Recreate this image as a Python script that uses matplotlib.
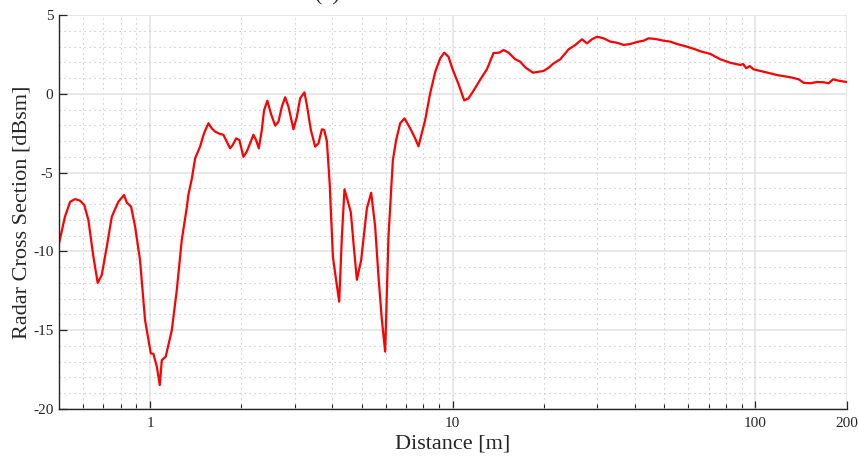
import numpy as np
import matplotlib
matplotlib.use('Agg')
import matplotlib.pyplot as plt
from matplotlib.ticker import FixedLocator, NullFormatter, MultipleLocator

# distance [m] and RCS [dBsm]
distance = [0.500, 0.523, 0.544, 0.565, 0.587, 0.606, 0.625, 0.649, 0.671, 0.692,
            0.719, 0.747, 0.785, 0.820, 0.837, 0.865, 0.892, 0.926, 0.962, 1.005,
            1.025, 1.052, 1.076, 1.093, 1.126, 1.179, 1.225, 1.272, 1.322, 1.338,
            1.373, 1.408, 1.462, 1.507, 1.558, 1.598, 1.639, 1.703, 1.746, 1.792,
            1.837, 1.875, 1.923, 1.972, 2.033, 2.086, 2.139, 2.194, 2.239, 2.286,
            2.339, 2.380, 2.440, 2.505, 2.589, 2.655, 2.724, 2.793, 2.864, 2.976,
            3.054, 3.131, 3.235, 3.295, 3.397, 3.510, 3.599, 3.694, 3.759, 3.837,
            3.920, 4.017, 4.087, 4.214, 4.301, 4.387, 4.489, 4.606, 4.699, 4.822,
            4.981, 5.096, 5.202, 5.375, 5.541, 5.682, 5.831, 5.979, 6.131, 6.340,
            6.501, 6.702, 6.925, 7.232, 7.512, 7.703, 8.106, 8.420, 8.753, 9.086,
            9.367, 9.678, 10.007, 10.447, 10.910, 11.273, 11.711, 12.324, 12.969, 13.637,
            14.243, 14.717, 15.287, 16.087, 16.710, 17.357, 18.405, 19.209, 19.954, 20.728,
            21.531, 22.656, 23.537, 24.134, 25.397, 26.724, 27.760, 28.836, 29.954, 31.500,
            33.148, 34.882, 36.678, 38.597, 40.616, 42.711, 44.366, 46.687, 49.735, 52.33,
            55.07, 59.43, 63.31, 65.76, 70.97, 76.57, 82.60, 89.17, 91.02, 93.33,
            95.70, 98.67, 106.5, 117.9, 130.5, 139.0, 144.4, 151.9, 159.9, 168.1,
            174.6, 180.6, 188.5, 200.0]
rcs_dbsm = [-9.49, -7.80, -6.85, -6.68, -6.78, -7.06, -8.00, -10.30, -12.00, -11.50,
            -9.70, -7.80, -6.85, -6.42, -6.90, -7.16, -8.43, -10.55, -14.35, -16.47,
            -16.50, -17.30, -18.48, -16.90, -16.68, -15.00, -12.45, -9.28, -7.20, -6.40,
            -5.40, -4.10, -3.35, -2.50, -1.87, -2.19, -2.40, -2.55, -2.60, -3.04,
            -3.46, -3.25, -2.83, -2.93, -4.00, -3.67, -3.14, -2.60, -2.93, -3.46,
            -2.30, -1.03, -0.44, -1.24, -2.02, -1.77, -0.82, -0.22, -0.82, -2.25,
            -1.45, -0.29, 0.09, -0.71, -2.30, -3.35, -3.14, -2.25, -2.30, -3.00,
            -5.70, -10.33, -11.39, -13.19, -9.07, -6.06, -6.74, -7.54, -9.49, -11.80,
            -10.55, -8.85, -7.27, -6.28, -8.43, -11.60, -14.35, -16.36, -9.07, -4.20,
            -2.93, -1.87, -1.56, -2.19, -2.83, -3.33, -1.66, 0.03, 1.40, 2.25,
            2.61, 2.35, 1.51, 0.62, -0.42, -0.29, 0.20, 0.90, 1.56, 2.59,
            2.61, 2.78, 2.61, 2.19, 2.04, 1.68, 1.34, 1.40, 1.45, 1.65,
            1.93, 2.19, 2.57, 2.82, 3.10, 3.46, 3.20, 3.46, 3.62, 3.52,
            3.31, 3.24, 3.10, 3.16, 3.29, 3.37, 3.52, 3.48, 3.37, 3.31,
            3.16, 2.99, 2.82, 2.70, 2.53, 2.19, 1.97, 1.83, 1.89, 1.62,
            1.76, 1.55, 1.40, 1.19, 1.05, 0.92, 0.70, 0.67, 0.75, 0.73,
            0.67, 0.92, 0.83, 0.75]

x_ticks = [1, 10, 100, 200]
x_tick_labels = ['1', '10', '100', '200']
y_ticks = [-20, -15, -10, -5, 0, 5]

plt.rcParams['font.family'] = ['Liberation Serif', 'DejaVu Serif']

fig = plt.figure(figsize=(8.58, 4.59), dpi=100)
ax = fig.add_axes([0.0688, 0.1089, 0.9178, 0.8584])

ax.plot(distance, rcs_dbsm, color='#ff0000', linewidth=1.6)

ax.set_xscale('log')
ax.set_xlim(0.5, 200)
ax.set_ylim(-20, 5)

ax.xaxis.set_major_locator(FixedLocator(x_ticks))
ax.set_xticklabels(x_tick_labels)
minor_x = [m * 10.0**e for e in (-1, 0, 1) for m in range(2, 10)
           if 0.5 < m * 10.0**e < 200 and m * 10.0**e not in x_ticks]
ax.xaxis.set_minor_locator(FixedLocator(minor_x))
ax.xaxis.set_minor_formatter(NullFormatter())
ax.set_yticks(y_ticks)
ax.set_yticklabels([str(v) for v in y_ticks])
ax.yaxis.set_minor_locator(MultipleLocator(1))

ax.grid(which='major', color='#e2e2e2', linewidth=1.1, linestyle='-')
ax.grid(which='minor', color='#bdbdbd', linewidth=0.8, linestyle=(0, (1, 3.5)))
ax.set_axisbelow(True)

for side in ['top', 'right']:
    ax.spines[side].set_visible(False)
for side in ['left', 'bottom']:
    ax.spines[side].set_color('#262626')
    ax.spines[side].set_linewidth(1.0)

ax.tick_params(which='major', direction='in', length=6, width=0.9,
               colors='#262626', labelsize=11)
ax.tick_params(axis='x', which='major', pad=6)
ax.tick_params(axis='y', which='major', pad=4)
ax.tick_params(axis='x', which='minor', direction='in', length=3.5, width=0.8,
               colors='#262626')
ax.tick_params(axis='y', which='minor', length=0)

ax.set_xlabel('Distance [m]', fontsize=16, color='#262626', labelpad=3)
ax.set_ylabel('Radar Cross Section [dBsm]', fontsize=16, color='#262626', labelpad=1)

# title sits mostly above the visible canvas, as in the source figure
fig.text(327 / 858, 1 - 0.3 / 459, '(a)', fontsize=16, ha='center', va='baseline',
         color='#262626')

plt.savefig('out.png', dpi=100)
plt.close(fig)
